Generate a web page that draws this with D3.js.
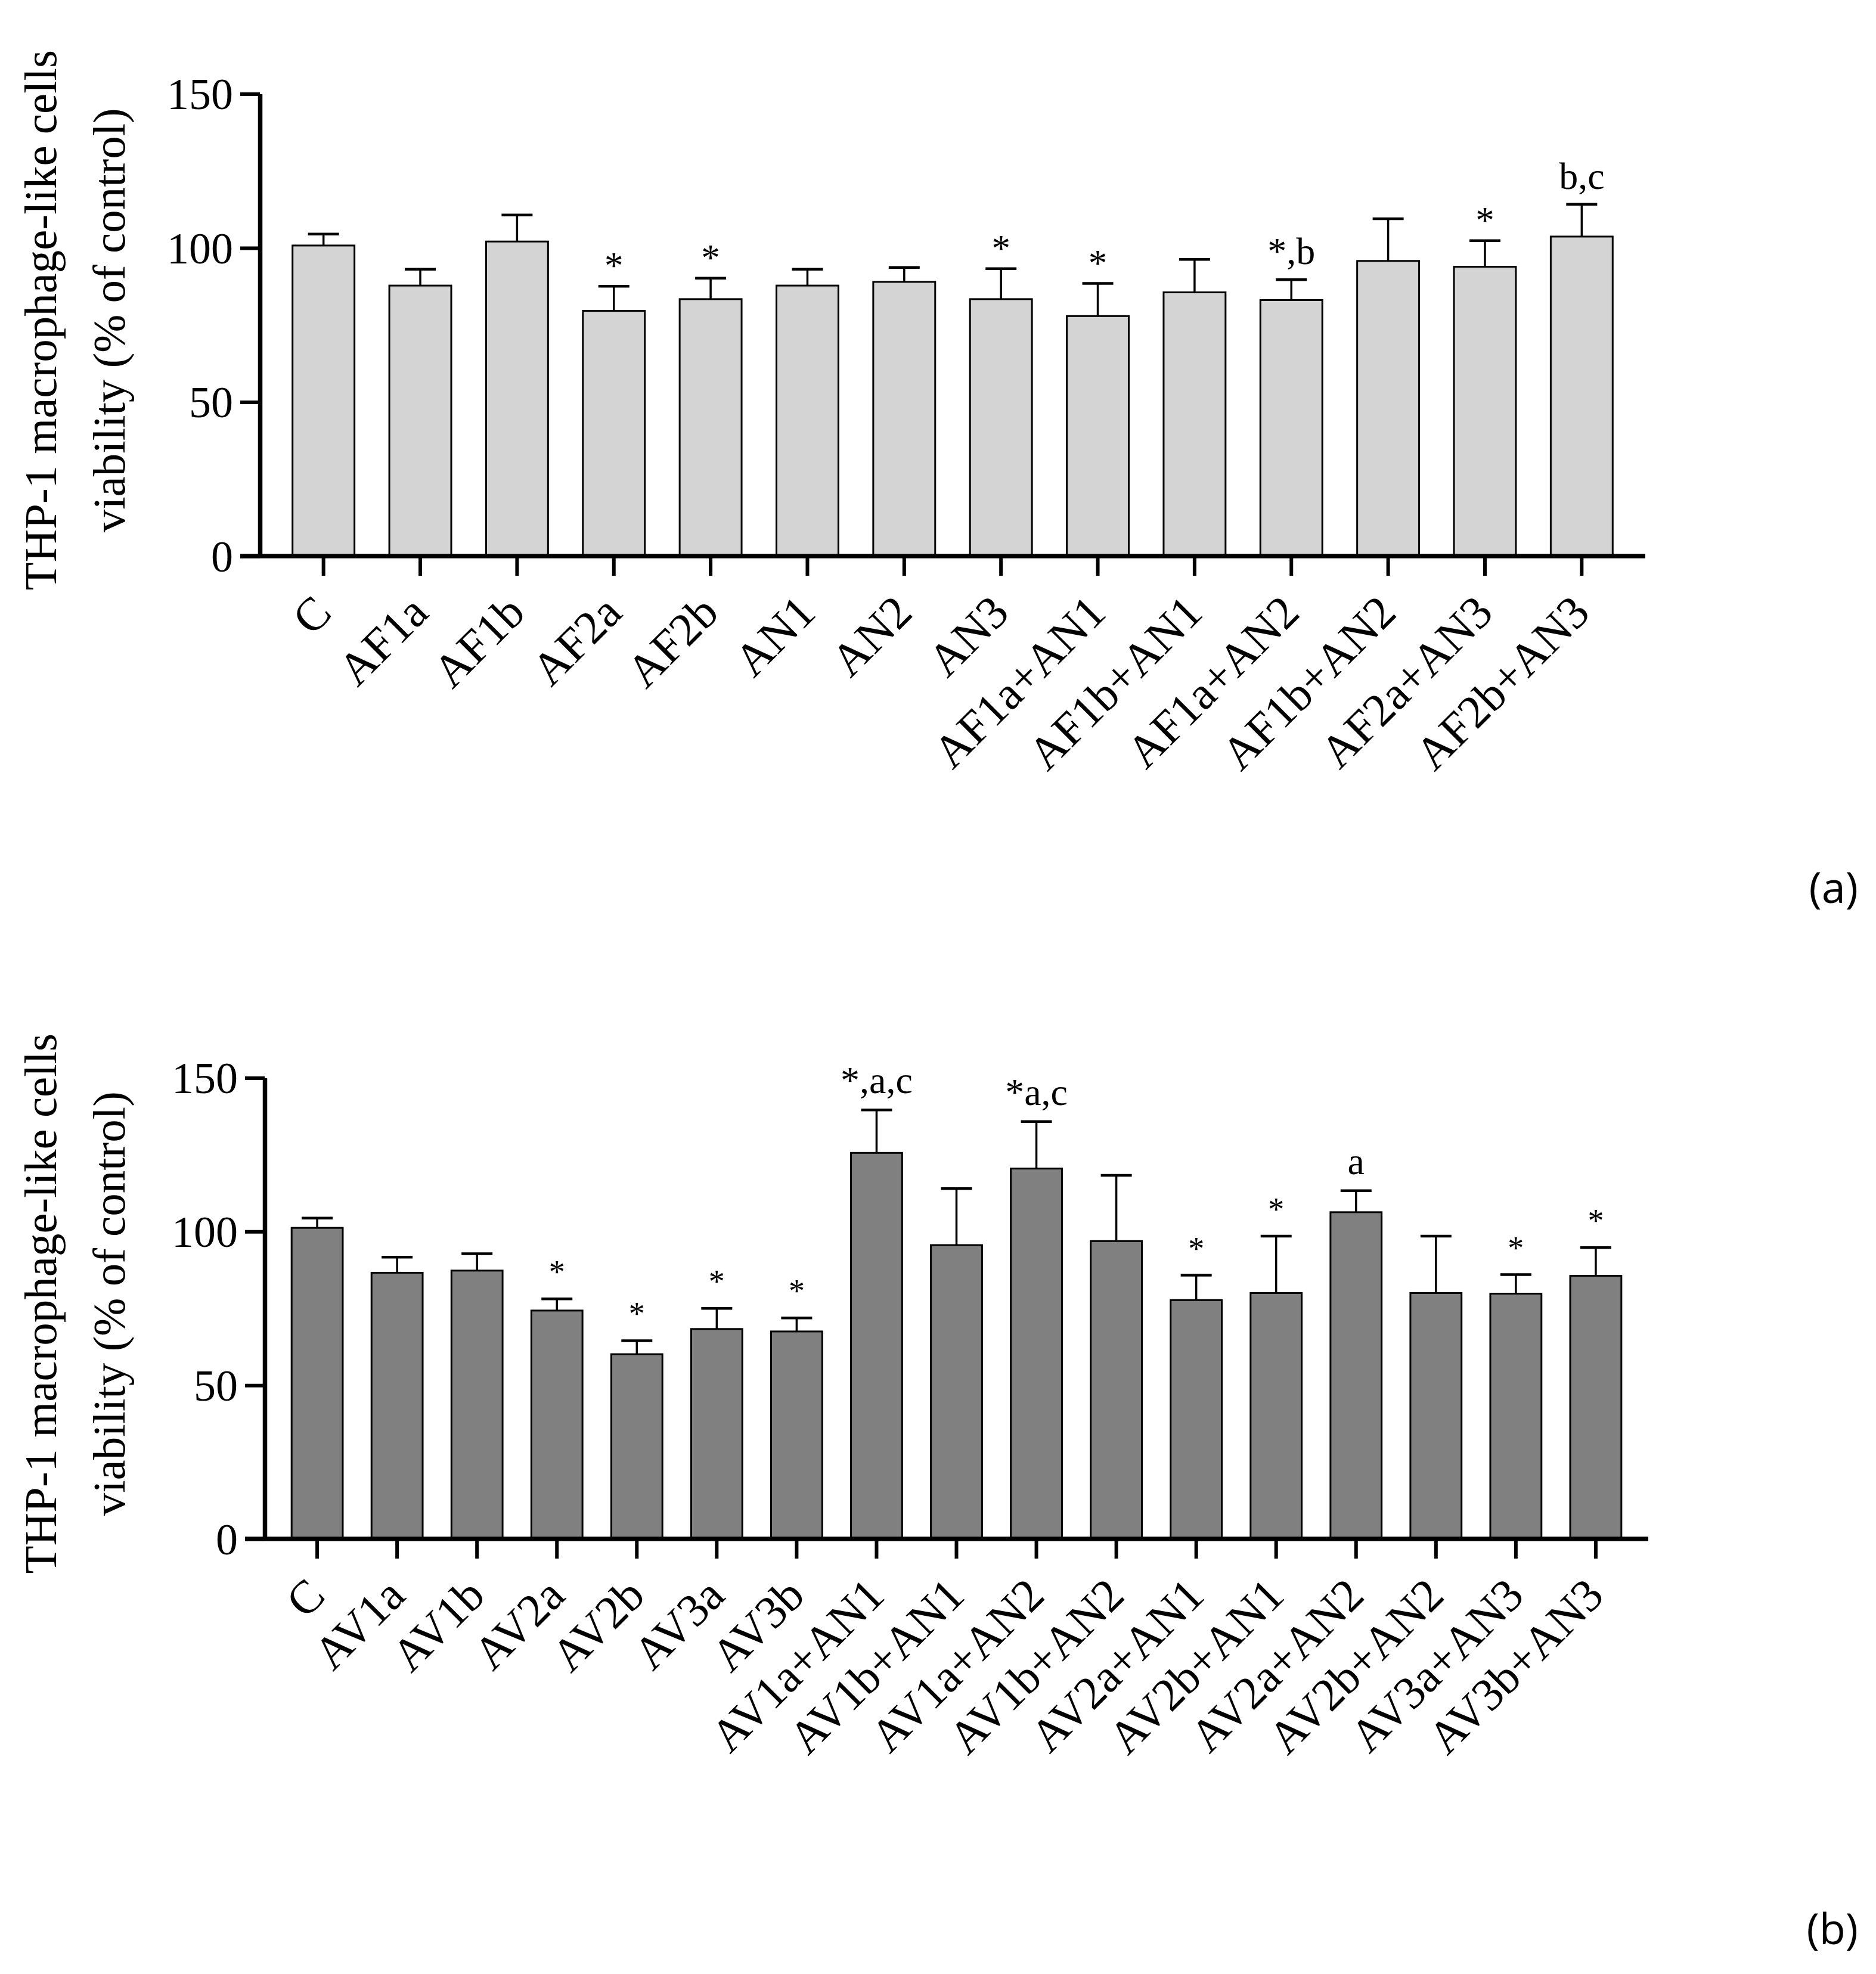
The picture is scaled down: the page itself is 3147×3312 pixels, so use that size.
<!DOCTYPE html>
<html>
<head>
<meta charset="utf-8">
<script src="https://cdn.jsdelivr.net/npm/d3@7"></script>
<style>
  body { margin: 0; background: #fff; }
  svg text { font-family: "Liberation Serif", "Times New Roman", serif; fill: #000; }
</style>
</head>
<body>
<div id="chart"></div>
<script>
// panel (a)
var catsA = ['C', 'AF1a', 'AF1b', 'AF2a', 'AF2b', 'AN1', 'AN2', 'AN3',
	'AF1a+AN1', 'AF1b+AN1', 'AF1a+AN2', 'AF1b+AN2', 'AF2a+AN3', 'AF2b+AN3'];
var meanA = [100.8, 87.8, 102.1, 79.6, 83.4, 87.8, 89.0, 83.4, 77.9, 85.6, 83.1, 95.8, 93.9, 103.7];
var errA = [3.7, 5.3, 8.6, 8.0, 6.8, 5.3, 4.7, 9.9, 10.6, 10.7, 6.6, 13.7, 8.5, 10.5];
var sigA = ['', '', '', '*', '*', '', '', '*', '*', '', '*,b', '', '*', 'b,c'];

// panel (b)
var catsB = ['C', 'AV1a', 'AV1b', 'AV2a', 'AV2b', 'AV3a', 'AV3b',
	'AV1a+AN1', 'AV1b+AN1', 'AV1a+AN2', 'AV1b+AN2', 'AV2a+AN1', 'AV2b+AN1',
	'AV2a+AN2', 'AV2b+AN2', 'AV3a+AN3', 'AV3b+AN3'];
var meanB = [101.2, 86.6, 87.3, 74.3, 60.1, 68.3, 67.5, 125.6, 95.6, 120.5, 96.9, 77.7, 80.0, 106.3, 80.0, 79.8, 85.6];
var errB = [3.2, 5.1, 5.5, 3.8, 4.4, 6.7, 4.4, 14.0, 18.4, 15.3, 21.4, 8.1, 18.5, 7.0, 18.5, 6.2, 9.2];
var sigB = ['', '', '', '*', '*', '*', '*', '*,a,c', '', '*a,c', '', '*', '*', 'a', '', '*', '*'];

var yTicks = [0, 50, 100, 150];
var yTitle = ['THP-1 macrophage-like cells', 'viability (% of control)'];

var W = 3147, H = 3312;

var svg = d3.select('#chart')
	.append('svg')
	.attr('width', W)
	.attr('height', H);

function panel(opt) {
	var cats = opt.cats, means = opt.means, errs = opt.errs, sigs = opt.sigs;

	var x = d3.scaleBand()
		.domain(cats)
		.range([opt.left, opt.right])
		.paddingInner(0.36)
		.paddingOuter(0.337);

	var y = d3.scaleLinear()
		.domain([0, 150])
		.range([opt.bottom, opt.top]);

	var g = svg.append('g').attr('class', 'panel');

	var data = cats.map(function(c, i) {
		return { cat: c, mean: means[i], err: errs[i], sig: sigs[i] };
	});

	// bars
	g.selectAll('.bar')
		.data(data)
		.enter()
		.append('rect')
		.attr('class', 'bar')
		.attr('x', function(d) { return x(d.cat); })
		.attr('y', function(d) { return y(d.mean); })
		.attr('width', x.bandwidth())
		.attr('height', function(d) { return y(0) - y(d.mean); })
		.attr('fill', opt.fill)
		.attr('stroke', '#000')
		.attr('stroke-width', 3);

	// error bars (upper only)
	var cx = function(d) { return x(d.cat) + x.bandwidth() / 2; };
	var capW = 26;
	g.selectAll('.err')
		.data(data)
		.enter()
		.append('line')
		.attr('x1', cx)
		.attr('x2', cx)
		.attr('y1', function(d) { return y(d.mean); })
		.attr('y2', function(d) { return y(d.mean + d.err); })
		.attr('stroke', '#000')
		.attr('stroke-width', 3.5);
	g.selectAll('.cap')
		.data(data)
		.enter()
		.append('line')
		.attr('x1', function(d) { return cx(d) - capW; })
		.attr('x2', function(d) { return cx(d) + capW; })
		.attr('y1', function(d) { return y(d.mean + d.err); })
		.attr('y2', function(d) { return y(d.mean + d.err); })
		.attr('stroke', '#000')
		.attr('stroke-width', 4.5);

	// significance marks
	g.selectAll('.sig')
		.data(data.filter(function(d) { return d.sig; }))
		.enter()
		.append('text')
		.attr('x', cx)
		.attr('y', function(d) {
			var top = y(d.mean + d.err);
			return d.sig === '*' ? top - opt.starGap : top - opt.textGap;
		})
		.attr('text-anchor', 'middle')
		.style('font-size', function(d) { return d.sig === '*' ? opt.starSize + 'px' : '64px'; })
		.text(function(d) { return d.sig; });

	// y axis
	var yAxis = g.append('g')
		.attr('transform', 'translate(' + opt.left + ',0)')
		.call(d3.axisLeft(y).tickValues(yTicks).tickSize(33).tickSizeOuter(0).tickPadding(12));
	yAxis.select('.domain').attr('stroke-width', 7.5);
	yAxis.selectAll('.tick line').attr('stroke-width', 6);
	yAxis.selectAll('.tick text')
		.style('font-family', '"Liberation Serif", serif')
		.style('font-size', '74px')
		.attr('dy', '0.34em');

	// x axis
	var xAxis = g.append('g')
		.attr('transform', 'translate(0,' + opt.bottom + ')')
		.call(d3.axisBottom(x).tickSize(33).tickSizeOuter(0));
	xAxis.select('.domain').remove();
	xAxis.append('line')
		.attr('x1', opt.left - 33)
		.attr('x2', opt.right)
		.attr('stroke', '#000')
		.attr('stroke-width', 7.5);
	xAxis.selectAll('.tick line').attr('stroke-width', 6);
	xAxis.selectAll('.tick text')
		.attr('x', 0)
		.attr('y', 0)
		.attr('dy', 0)
		.attr('text-anchor', 'end')
		.attr('transform', 'translate(17,99) rotate(-45)')
		.style('font-family', '"Liberation Serif", serif')
		.style('font-size', '78px');

	// y title, two lines
	var midY = (opt.top + opt.bottom) / 2 - 8;
	g.selectAll('.ytitle')
		.data(yTitle)
		.enter()
		.append('text')
		.attr('transform', function(d, i) {
			return 'translate(' + (94 + i * 115) + ',' + midY + ') rotate(-90)';
		})
		.attr('text-anchor', 'middle')
		.style('font-size', '77px')
		.text(function(d) { return d; });

	// panel letter
	svg.append('text')
		.attr('x', 3117)
		.attr('y', opt.letterY)
		.attr('text-anchor', 'end')
		.style('font-family', '"Open Sans", sans-serif')
		.style('font-size', '72px')
		.text(opt.letter);
}

panel({
	cats: catsA, means: meanA, errs: errA, sigs: sigA,
	left: 436, right: 2760, top: 157.6, bottom: 933,
	fill: '#d4d4d4', starGap: 13, starSize: 63, textGap: 26,
	letter: '(a)', letterY: 1515
});

panel({
	cats: catsB, means: meanB, errs: errB, sigs: sigB,
	left: 444, right: 2765, top: 1808.5, bottom: 2582,
	fill: '#808080', starGap: 27, starSize: 54, textGap: 28,
	letter: '(b)', letterY: 3262
});
</script>
</body>
</html>
